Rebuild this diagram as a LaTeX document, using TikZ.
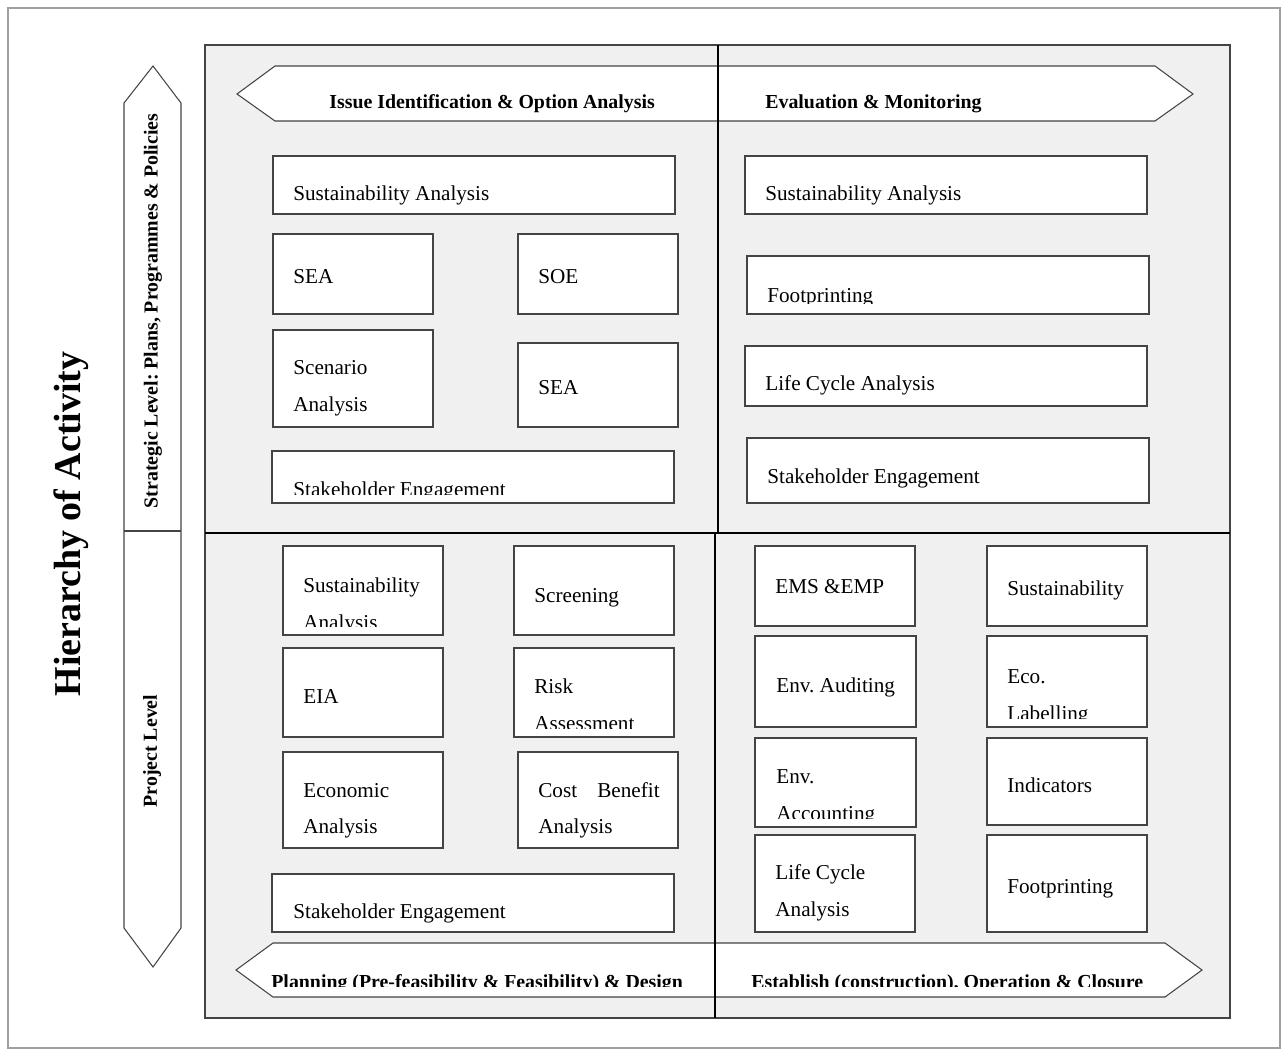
\documentclass[tikz,border=0pt]{standalone}
\usepackage{fontspec}
\setmainfont{Liberation Serif}
\usetikzlibrary{fit}
\definecolor{panelgray}{HTML}{F0F0F0}
\definecolor{edge}{HTML}{444444}
\definecolor{framegray}{HTML}{A0A0A0}
\tikzset{
  cellbox/.style={draw=edge, fill=white, line width=0.6pt, inner sep=0pt},
  txt/.style={font=\fontsize{12.06}{14}\selectfont, inner sep=0pt, anchor=base west},
  head/.style={font=\bfseries\fontsize{11.3}{13}\selectfont, inner sep=0pt, anchor=base west},
  arrowshape/.style={draw=edge, fill=white, line width=0.6pt},
  divider/.style={draw=black, line width=1.2pt},
}
\newcommand{\mkcell}[5]{\node[cellbox, fit={(#2,#3) (#4,#5)}] (#1) {};}
\newcommand{\celltext}[3][0.18cm]{\begin{scope}\clip (#2.north west) rectangle ([yshift=#1]#2.south east); #3 \end{scope}}
\begin{document}
\frenchspacing
\begin{tikzpicture}[x=0.02cm,y=-0.02cm]
\useasboundingbox (0,0) rectangle (1287,1055);
\draw[framegray, line width=0.6pt] (8,8) rectangle (1280,1048);
\node[draw=edge, fill=panelgray, line width=0.6pt, inner sep=0pt, fit={(205,45) (1230,1018)}] (panel) {};

% left vertical arrow
\draw[arrowshape] (124,103) -- (153,66) -- (181,103) -- (181,928) -- (153,967) -- (124,928) -- cycle;
\draw[edge, line width=0.6pt] (124,531) -- (181,531);
\node[head, anchor=center, rotate=90] (strategic) at (153,311) {Strategic Level: Plans, Programmes \& Policies};
\node[head, anchor=center, rotate=90] (project) at (152,751) {Project Level};
\node[font=\bfseries\fontsize{21.6}{26}\selectfont, inner sep=0pt, rotate=90, anchor=base] (hier) at (80,524) {Hierarchy of Activity};

% top and bottom arrows
\draw[arrowshape] (237,94) -- (275,66) -- (1155,66) -- (1193,94) -- (1155,121) -- (275,121) -- cycle;
\node[head] (issue) at (329,108) {Issue Identification \& Option Analysis};
\node[head] (evalmon) at (765,108) {Evaluation \& Monitoring};
\draw[arrowshape] (236,970) -- (273,943) -- (1165,943) -- (1202,970) -- (1165,997) -- (273,997) -- cycle;
\begin{scope}
\clip (236,943) rectangle (1202,986);
\node[head] (plan) at (271,988) {Planning (Pre-feasibility \& Feasibility) \& Design};
\node[head] (estab) at (751,988) {Establish (construction), Operation \& Closure};
\end{scope}

% dividers
\draw[divider] (718,45) -- (718,533);
\draw[divider] (715,533) -- (715,1018);
\draw[divider] (205,533) -- (1230,533);

% boxes
\mkcell{b1}{273}{156}{675}{214}
\mkcell{b2}{273}{234}{433}{314}
\mkcell{b3}{518}{234}{678}{314}
\mkcell{b4}{273}{330}{433}{427}
\mkcell{b5}{518}{343}{678}{427}
\mkcell{b6}{272}{451}{674}{503}
\mkcell{b7}{745}{156}{1147}{214}
\mkcell{b8}{747}{256}{1149}{314}
\mkcell{b9}{745}{346}{1147}{406}
\mkcell{b10}{747}{438}{1149}{503}
\mkcell{b11}{283}{546}{443}{635}
\mkcell{b12}{514}{546}{674}{635}
\mkcell{b13}{283}{648}{443}{737}
\mkcell{b14}{514}{648}{674}{737}
\mkcell{b15}{283}{752}{443}{848}
\mkcell{b16}{518}{752}{678}{848}
\mkcell{b17}{272}{874}{674}{932}
\mkcell{b18}{755}{546}{915}{626}
\mkcell{b19}{987}{546}{1147}{626}
\mkcell{b20}{755}{636}{916}{727}
\mkcell{b21}{987}{636}{1147}{727}
\mkcell{b22}{755}{738}{916}{827}
\mkcell{b23}{987}{738}{1147}{825}
\mkcell{b24}{755}{835}{915}{932}
\mkcell{b25}{987}{835}{1147}{932}

% texts
\celltext{b1}{\node[txt] (t1) at (293,200) {Sustainability Analysis};}
\celltext{b2}{\node[txt] (t2) at (293,283) {SEA};}
\celltext{b3}{\node[txt] (t3) at (538,283) {SOE};}
\celltext{b4}{\node[txt] (t4a) at (293,374) {Scenario}; \node[txt] (t4b) at (293,411) {Analysis};}
\celltext{b5}{\node[txt] (t5) at (538,394) {SEA};}
\celltext{b6}{\node[txt] (t6) at (293,496) {Stakeholder Engagement};}
\celltext{b7}{\node[txt] (t7) at (765,200) {Sustainability Analysis};}
\celltext[0.22cm]{b8}{\node[txt] (t8) at (767,302) {Footprinting};}
\celltext{b9}{\node[txt] (t9) at (765,390) {Life Cycle Analysis};}
\celltext{b10}{\node[txt] (t10) at (767,483) {Stakeholder Engagement};}
\celltext{b11}{\node[txt] (t11a) at (303,592) {Sustainability}; \node[txt] (t11b) at (303,629) {Analysis};}
\celltext{b12}{\node[txt] (t12) at (534,602) {Screening};}
\celltext{b13}{\node[txt] (t13) at (303,703) {EIA};}
\celltext{b14}{\node[txt] (t14a) at (534,693) {Risk}; \node[txt] (t14b) at (534,730) {Assessment};}
\celltext{b15}{\node[txt] (t15a) at (303,797) {Economic}; \node[txt] (t15b) at (303,833) {Analysis};}
\celltext{b16}{\node[txt] (t16a) at (538,797) {Cost}; \node[txt, anchor=base east] (t16c) at (660,797) {Benefit}; \node[txt] (t16b) at (538,833) {Analysis};}
\celltext{b17}{\node[txt] (t17) at (293,918) {Stakeholder Engagement};}
\celltext{b18}{\node[txt] (t18) at (775,593) {EMS \&EMP};}
\celltext{b19}{\node[txt] (t19) at (1007,595) {Sustainability};}
\celltext{b20}{\node[txt] (t20) at (776,692) {Env. Auditing};}
\celltext{b21}{\node[txt] (t21a) at (1007,683) {Eco.}; \node[txt] (t21b) at (1007,720) {Labelling};}
\celltext{b22}{\node[txt] (t22a) at (776,783) {Env.}; \node[txt] (t22b) at (776,820) {Accounting};}
\celltext{b23}{\node[txt] (t23) at (1007,792) {Indicators};}
\celltext{b24}{\node[txt] (t24a) at (775,879) {Life Cycle}; \node[txt] (t24b) at (775,916) {Analysis};}
\celltext{b25}{\node[txt] (t25) at (1007,893) {Footprinting};}
\end{tikzpicture}
\end{document}
